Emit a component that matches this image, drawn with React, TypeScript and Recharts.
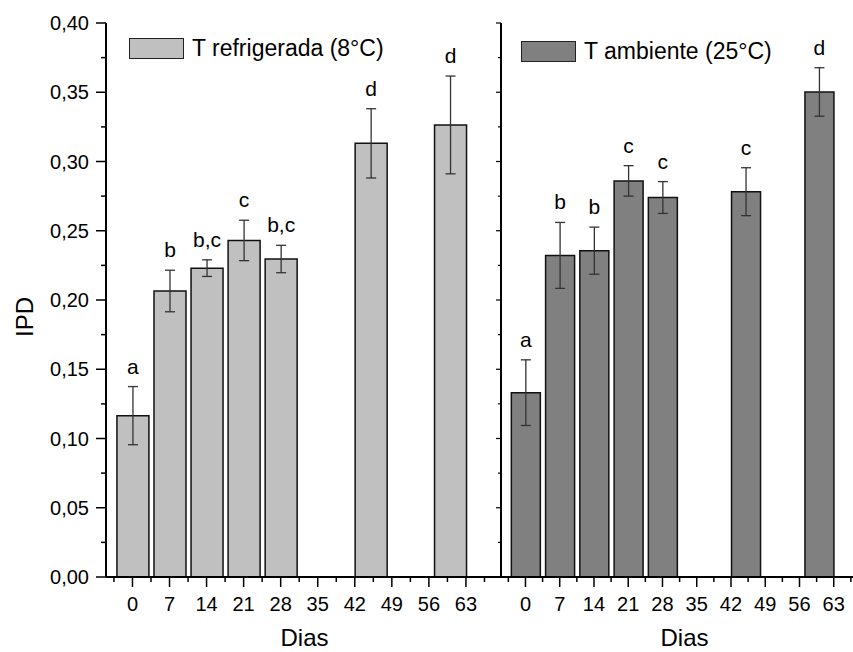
import { BarChart, Bar, XAxis, YAxis, ErrorBar, LabelList, Legend } from "recharts";

// Dias de armazenamento (posição das barras no eixo numérico)
const dias = [0, 7, 14, 21, 28, 45, 60];

// T refrigerada (8°C)
const ipdRefrigerada = [0.1165, 0.2065, 0.223, 0.243, 0.2296, 0.3131, 0.3264];
const erroRefrigerada = [0.021, 0.015, 0.006, 0.0146, 0.0099, 0.025, 0.0353];
const letrasRefrigerada = ["a", "b", "b,c", "c", "b,c", "d", "d"];

// T ambiente (25°C)
const ipdAmbiente = [0.1331, 0.2322, 0.2356, 0.286, 0.274, 0.2782, 0.3502];
const erroAmbiente = [0.0237, 0.0238, 0.017, 0.011, 0.0115, 0.0173, 0.0175];
const letrasAmbiente = ["a", "b", "b", "c", "c", "c", "d"];

// Marcas dos eixos
const ticksDias = [0, 7, 14, 21, 28, 35, 42, 49, 56, 63];
const ticksDiasMenores = [-3.5, 3.5, 10.5, 17.5, 24.5, 31.5, 38.5, 45.5, 52.5, 59.5, 66.5];
const ticksIPD = [0, 0.05, 0.1, 0.15, 0.2, 0.25, 0.3, 0.35, 0.4];
const ticksIPDMenores = [0.025, 0.075, 0.125, 0.175, 0.225, 0.275, 0.325, 0.375];

const FONTE = '"Liberation Sans", Arial, sans-serif';

const dadosRefrigerada = dias.map((dia, i) => ({
  dia,
  ipd: ipdRefrigerada[i],
  erro: erroRefrigerada[i],
  letra: letrasRefrigerada[i],
}));

const dadosAmbiente = dias.map((dia, i) => ({
  dia,
  ipd: ipdAmbiente[i],
  erro: erroAmbiente[i],
  letra: letrasAmbiente[i],
}));

const todosTicksDias = [...ticksDias, ...ticksDiasMenores].sort((a, b) => a - b);
const todosTicksIPD = [...ticksIPD, ...ticksIPDMenores].sort((a, b) => a - b);

function TickDias(props: any) {
  const { x, y, payload } = props;
  const eixoY = y - 20; // tickSize + tickMargin
  const principal = ticksDias.includes(payload.value);
  return (
    <g>
      <line x1={x} y1={eixoY} x2={x} y2={eixoY + (principal ? 10 : 5)} stroke="#000" strokeWidth={1.5} />
      {principal && (
        <text x={x} y={eixoY + 34} textAnchor="middle" fontSize={20} fill="#000">
          {payload.value}
        </text>
      )}
    </g>
  );
}

function TickIPD(props: any) {
  const { x, y, payload } = props;
  const eixoX = x + 17;
  const principal = ticksIPD.includes(payload.value);
  return (
    <g>
      <line x1={eixoX - (principal ? 10 : 5)} y1={y} x2={eixoX} y2={y} stroke="#000" strokeWidth={1.5} />
      {principal && (
        <text x={eixoX - 17} y={y + 7} textAnchor="end" fontSize={20} fill="#000">
          {payload.value.toFixed(2).replace(".", ",")}
        </text>
      )}
    </g>
  );
}

function TickIPDDireita(props: any) {
  const { x, y, payload } = props;
  const eixoX = x + 5;
  const principal = ticksIPD.includes(payload.value);
  return <line x1={eixoX - (principal ? 5 : 3)} y1={y} x2={eixoX} y2={y} stroke="#000" strokeWidth={1.2} />;
}

function rotuloIPD(props: any) {
  const vb = props.viewBox;
  const cx = vb.x + 33;
  const cy = vb.y + vb.height / 2 + 17;
  return (
    <text x={cx} y={cy} transform={`rotate(-90 ${cx} ${cy})`} textAnchor="middle" fontSize={24} fill="#000">
      IPD
    </text>
  );
}

// letra de significância logo acima da barra de erro
function rotuloLetra(erros: number[], valores: number[]) {
  return (props: any) => {
    const vb = props.viewBox ?? props;
    const { x, y, width, height } = vb;
    const i = props.index;
    const erroPx = (erros[i] * Math.abs(height)) / valores[i];
    return (
      <text x={x + width / 2} y={y - erroPx - 13} textAnchor="middle" fontSize={21} fill="#000">
        {props.value}
      </text>
    );
  };
}

function Legenda({ cor, texto }: { cor: string; texto: string }) {
  return (
    <div style={{ display: "flex", alignItems: "center", fontFamily: FONTE, whiteSpace: "nowrap" }}>
      <div style={{ width: 53, height: 19, background: cor, border: "1.5px solid #222" }} />
      <span style={{ marginLeft: 8, fontSize: 23, color: "#000" }}>{texto}</span>
    </div>
  );
}

const eixo = { stroke: "#000", strokeWidth: 2 };
const rotuloDias = { value: "Dias", position: "insideBottom" as const, offset: 6, fontSize: 24, fill: "#000" };

export default function App() {
  return (
    <div
      style={{
        position: "absolute",
        left: 0,
        top: 0,
        width: 853,
        height: 652,
        overflow: "hidden",
        background: "#fff",
        fontFamily: FONTE,
      }}
    >
      <div style={{ position: "absolute", left: 0, top: 0 }}>
        <BarChart width={503} height={652} data={dadosRefrigerada} margin={{ top: 23, right: 0, bottom: 0, left: 0 }}>
          <XAxis
            dataKey="dia"
            type="number"
            domain={[-5, 70]}
            ticks={todosTicksDias}
            interval={0}
            tickSize={10}
            tickMargin={10}
            tickLine={false}
            tick={<TickDias />}
            axisLine={eixo}
            height={75}
            label={rotuloDias}
          />
          <XAxis
            xAxisId="topo"
            orientation="top"
            dataKey="dia"
            type="number"
            domain={[-5, 70]}
            height={0}
            tick={false}
            tickLine={false}
            axisLine={eixo}
          />
          <YAxis
            type="number"
            domain={[0, 0.4]}
            ticks={todosTicksIPD}
            interval={0}
            width={106}
            tickSize={10}
            tickMargin={7}
            tickLine={false}
            tick={<TickIPD />}
            axisLine={eixo}
            label={rotuloIPD}
          />
          <Legend
            verticalAlign="middle"
            align="center"
            layout="horizontal"
            wrapperStyle={{ top: 35, left: 129, width: "auto" }}
            content={() => <Legenda cor="#c0c0c0" texto="T refrigerada (8°C)" />}
          />
          <Bar dataKey="ipd" fill="#c0c0c0" stroke="#111" strokeWidth={1.5} barSize={32} isAnimationActive={false}>
            <ErrorBar dataKey="erro" width={5} stroke="#333" strokeWidth={1.3} />
            <LabelList dataKey="letra" content={rotuloLetra(erroRefrigerada, ipdRefrigerada)} />
          </Bar>
        </BarChart>
      </div>
      <div style={{ position: "absolute", left: 491, top: 0 }}>
        <BarChart width={379} height={652} data={dadosAmbiente} margin={{ top: 23, right: 2, bottom: 0, left: 0 }}>
          <XAxis
            dataKey="dia"
            type="number"
            domain={[-5, 70]}
            ticks={todosTicksDias}
            interval={0}
            tickSize={10}
            tickMargin={10}
            tickLine={false}
            tick={<TickDias />}
            axisLine={eixo}
            height={75}
            label={rotuloDias}
          />
          <XAxis
            xAxisId="topo"
            orientation="top"
            dataKey="dia"
            type="number"
            domain={[-5, 70]}
            height={0}
            tick={false}
            tickLine={false}
            axisLine={eixo}
          />
          <YAxis
            type="number"
            domain={[0, 0.4]}
            ticks={todosTicksIPD}
            interval={0}
            width={10}
            tickSize={5}
            tickMargin={0}
            tickLine={false}
            tick={<TickIPDDireita />}
            axisLine={eixo}
          />
          <Legend
            verticalAlign="middle"
            align="center"
            layout="horizontal"
            wrapperStyle={{ top: 38, left: 30, width: "auto" }}
            content={() => <Legenda cor="#808080" texto="T ambiente (25°C)" />}
          />
          <Bar dataKey="ipd" fill="#808080" stroke="#111" strokeWidth={1.5} barSize={29} isAnimationActive={false}>
            <ErrorBar dataKey="erro" width={5} stroke="#333" strokeWidth={1.3} />
            <LabelList dataKey="letra" content={rotuloLetra(erroAmbiente, ipdAmbiente)} />
          </Bar>
        </BarChart>
      </div>
    </div>
  );
}
